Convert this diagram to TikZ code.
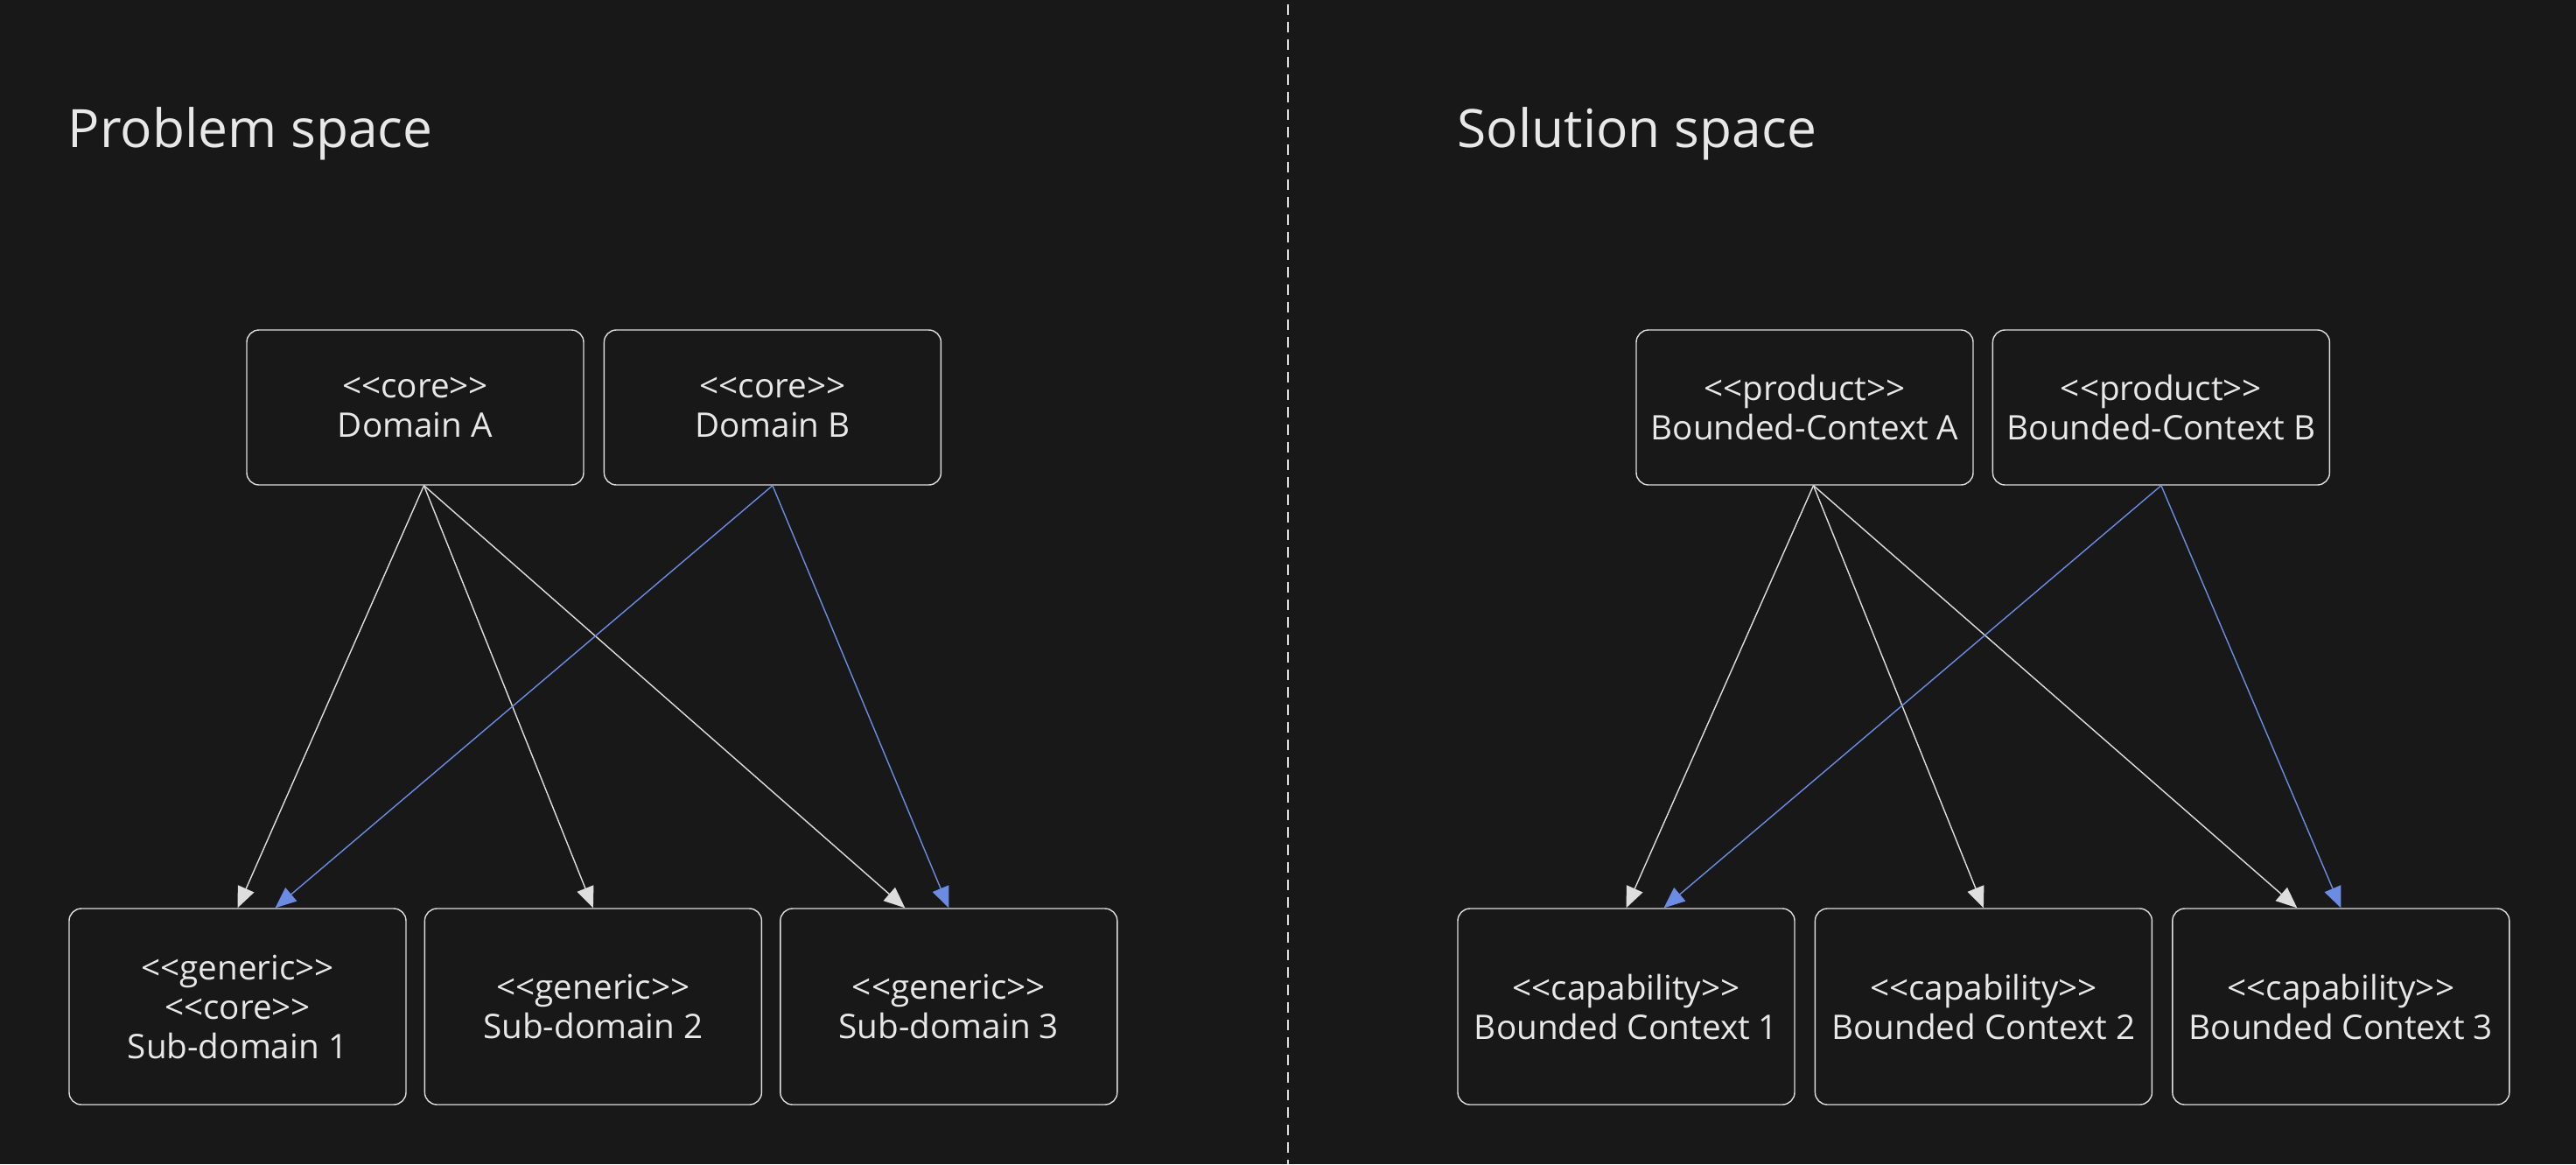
\documentclass[tikz,border=0pt]{standalone}
\usepackage{fontspec}
\setmainfont{Open Sans}[Ligatures=TeXOff]
\usepackage{tikz}
\usetikzlibrary{arrows.meta,calc,positioning}
\definecolor{bgdark}{RGB}{24,24,24}
\definecolor{linegray}{RGB}{222,222,222}
\definecolor{textgray}{RGB}{232,232,232}
\definecolor{arrowblue}{RGB}{108,140,228}
\newcommand\boxfont{\fontsize{11}{12.8}\selectfont}
\newcommand\titlefont{\fontsize{17.2}{20}\selectfont}
\tikzset{
    auto,node distance =0.2 cm and 0.2 cm,line width=0.6pt,
    box/.style ={rectangle, draw=linegray, rounded corners=0.14cm, text=textgray, align=center, minimum width = 3.85 cm, font=\boxfont},
    topbox/.style = {box, minimum height = 1.77 cm},
    lowbox/.style = {box, minimum height = 2.24 cm},
    link/.style={draw=linegray, -{Triangle[length=0.24cm,width=0.2cm,fill=linegray]}},
    bluearrow/.style={draw=arrowblue, -{Triangle[length=0.24cm,width=0.2cm,fill=arrowblue]}},
    title/.style = {anchor=base west, inner sep=0pt, text=textgray, font=\titlefont}
}

\begin{document}
\begin{tikzpicture}
        \fill[bgdark] (0,0) rectangle (29.44,-13.30);
        \useasboundingbox (0,0) rectangle (29.44,-13.30);

        % divider
        \coordinate (divtop) at (14.72,-0.05);
        \coordinate (divbot) at (14.72,-13.30);
        \draw[draw=linegray, line width=0.7pt, dash pattern=on 0.12cm off 0.08cm] (divtop) -- (divbot);

        % problem space
        \node[title] (pt) at (0.77,-1.68) {Problem space};
        \node[topbox] (da) at (4.745,-4.655) {<<core>>\\Domain A};
        \node[topbox] (db) [right =0.22cm of da] {<<core>>\\Domain B};
        \node[lowbox] (s1) at (2.715,-11.50) {<<generic>>\\<<core>>\\Sub-domain 1};
        \node[lowbox] (s2) [right =of s1] {<<generic>>\\Sub-domain 2};
        \node[lowbox] (s3) [right =of s2] {<<generic>>\\Sub-domain 3};

        \path ([xshift=1mm]da.south) edge[link] (s1.north);
        \path ([xshift=1mm]da.south) edge[link] (s2.north);
        \path ([xshift=1mm]da.south) edge[link] ([xshift=-5mm]s3.north);
        \path (db.south) edge[bluearrow] ([xshift=4.3mm]s1.north);
        \path (db.south) edge[bluearrow] (s3.north);

        % solution space
        \node[title] (st) at (16.65,-1.68) {Solution space};
        \node[topbox] (ca) at (20.625,-4.655) {<<product>>\\Bounded-Context A};
        \node[topbox] (cb) [right =0.21cm of ca] {<<product>>\\Bounded-Context B};
        \node[lowbox] (c1) at (18.585,-11.50) {<<capability>>\\Bounded Context 1};
        \node[lowbox] (c2) [right =0.22cm of c1] {<<capability>>\\Bounded Context 2};
        \node[lowbox] (c3) [right =0.22cm of c2] {<<capability>>\\Bounded Context 3};

        \path ([xshift=1mm]ca.south) edge[link] (c1.north);
        \path ([xshift=1mm]ca.south) edge[link] (c2.north);
        \path ([xshift=1mm]ca.south) edge[link] ([xshift=-5mm]c3.north);
        \path (cb.south) edge[bluearrow] ([xshift=4.3mm]c1.north);
        \path (cb.south) edge[bluearrow] (c3.north);
    \end{tikzpicture}
\end{document}
